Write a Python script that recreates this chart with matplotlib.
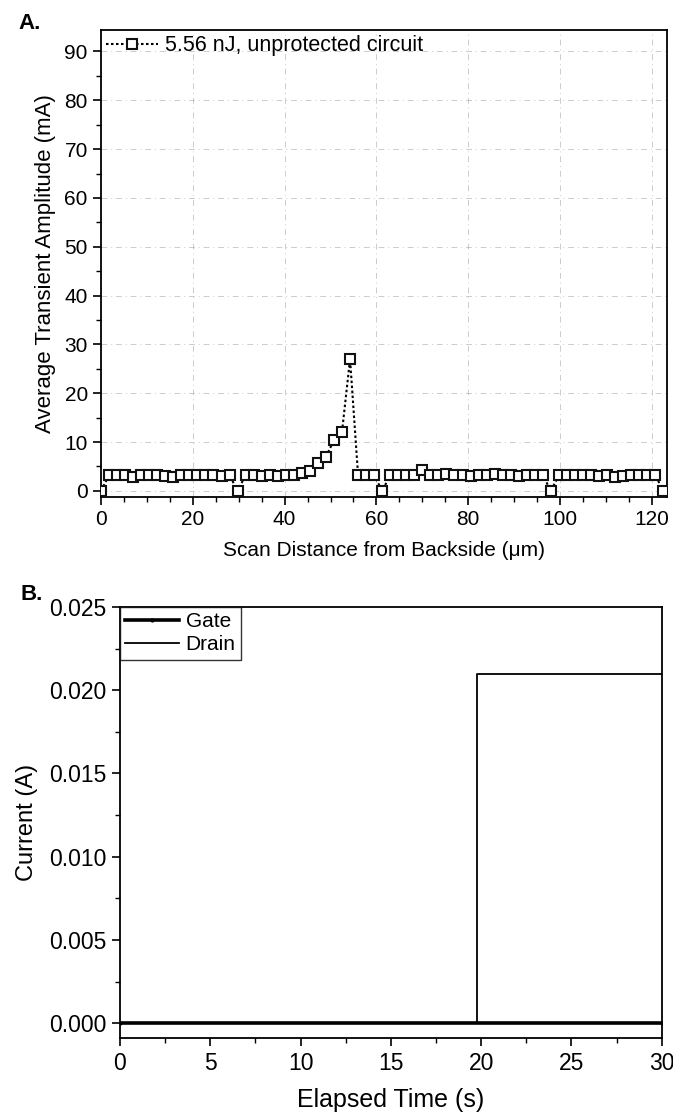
import numpy as np
import matplotlib
matplotlib.use('Agg')
import matplotlib.pyplot as plt
from matplotlib.ticker import MultipleLocator

plt.rcParams['font.family'] = ['Liberation Sans', 'DejaVu Sans']
plt.rcParams['font.size'] = 15

# panel A: scan positions (um) and average transient amplitude (mA)
scan_um = [0.0, 1.75, 3.5, 5.25, 7.0, 8.75, 10.5, 12.25, 14.0, 15.75,
           17.5, 19.25, 21.0, 22.75, 24.5, 26.25, 28.0, 29.75, 31.5, 33.25,
           35.0, 36.75, 38.5, 40.25, 42.0, 43.75, 45.5, 47.25, 49.0, 50.75,
           52.5, 54.25, 56.0, 57.75, 59.5, 61.25, 63.0, 64.75, 66.5, 68.25,
           70.0, 71.75, 73.5, 75.25, 77.0, 78.75, 80.5, 82.25, 84.0, 85.75,
           87.5, 89.25, 91.0, 92.75, 94.5, 96.25, 98.0, 99.75, 101.5, 103.25,
           105.0, 106.75, 108.5, 110.25, 112.0, 113.75, 115.5, 117.25, 119.0, 120.75,
           122.5]
amp_ma = [0,
          3.2, 3.3, 3.2, 2.9, 3.2, 3.3, 3.2, 3.1, 2.9, 3.2, 3.2, 3.3, 3.2, 3.2, 3.1, 3.2,
          0,
          3.2, 3.2, 3.1, 3.2, 3.1, 3.2, 3.2, 3.7, 4.1, 5.8, 7.0, 10.4, 12.1, 27.0, 3.2, 3.2, 3.2,
          0,
          3.2, 3.2, 3.2, 3.2, 4.2, 3.2, 3.2, 3.5, 3.2, 3.2, 3.1, 3.2, 3.3, 3.5, 3.2, 3.2, 3.1, 3.2, 3.2, 3.2,
          0,
          3.2, 3.2, 3.3, 3.2, 3.2, 3.1, 3.2, 2.9, 3.1, 3.2, 3.2, 3.2, 3.2,
          0]
label_a = '5.56 nJ, unprotected circuit'

# panel B: current vs elapsed time
gate_t = [0, 30]
gate_i = [0.0, 0.0]
drain_t = [0, 19.75, 19.75, 30]
drain_i = [0.0, 0.0, 0.021, 0.021]

fig = plt.figure(figsize=(6.73, 11.19), dpi=100)

# ---- A ----
ax1 = fig.add_axes([0.1501, 0.5561, 0.841, 0.4171])
ax1.plot(scan_um, amp_ma, ls=(0, (1.2, 1.2)), lw=1.5, color='black',
         marker='s', ms=7, mfc='white', mec='#111111', mew=1.5, label=label_a, zorder=3)
ax1.set_xlim(0, 123.3)
ax1.set_ylim(-1.2, 94.4)
ax1.xaxis.set_major_locator(MultipleLocator(20))
ax1.xaxis.set_minor_locator(MultipleLocator(5))
ax1.yaxis.set_major_locator(MultipleLocator(10))
ax1.yaxis.set_minor_locator(MultipleLocator(5))
ax1.tick_params(which='major', direction='out', length=6, width=1.2, labelsize=15)
ax1.tick_params(which='minor', direction='out', length=3.5, width=1.0)
ax1.grid(True, which='major', color='#aaaaaa', ls=(0, (6, 4, 1, 4)), lw=0.7, alpha=0.6)
for s in ax1.spines.values():
    s.set_linewidth(1.3)
ax1.set_xlabel('Scan Distance from Backside (\u03bcm)', fontsize=15, labelpad=9)
ax1.set_ylabel('Average Transient Amplitude (mA)', fontsize=16, labelpad=6)
ax1.legend(loc='upper left', frameon=False, fontsize=15.5, handlelength=2.4,
           handletextpad=0.3, borderaxespad=0.1, borderpad=0.15)

# ---- B ----
ax2 = fig.add_axes([0.1783, 0.0721, 0.805, 0.3855])
ax2.plot(gate_t, gate_i, color='black', lw=2.6, marker='.', ms=4, label='Gate')
ax2.plot(drain_t, drain_i, color='black', lw=1.3, label='Drain')
ax2.set_xlim(0, 30)
ax2.set_ylim(-0.0009, 0.025)
ax2.xaxis.set_major_locator(MultipleLocator(5))
ax2.xaxis.set_minor_locator(MultipleLocator(2.5))
ax2.yaxis.set_major_locator(MultipleLocator(0.005))
ax2.yaxis.set_minor_locator(MultipleLocator(0.0025))
ax2.yaxis.set_major_formatter(plt.FormatStrFormatter('%.3f'))
ax2.tick_params(which='major', direction='out', length=6, width=1.2, labelsize=16.5)
ax2.tick_params(which='minor', direction='out', length=3.5, width=1.0)
for s in ax2.spines.values():
    s.set_linewidth(1.3)
ax2.set_xlabel('Elapsed Time (s)', fontsize=18, labelpad=10)
ax2.set_ylabel('Current (A)', fontsize=17, labelpad=8)
leg = ax2.legend(loc='upper left', frameon=True, fancybox=False, fontsize=15,
                 handlelength=2.6, handletextpad=0.3, borderaxespad=0.0,
                 borderpad=0.25, labelspacing=0.2, numpoints=1, markerscale=1.0)
leg.get_frame().set_edgecolor('black')
leg.get_frame().set_linewidth(1.0)

fig.text(0.028, 0.988, 'A.', fontsize=16, fontweight='bold', va='top')
fig.text(0.03, 0.478, 'B.', fontsize=16, fontweight='bold', va='top')

fig.savefig('out.png', dpi=100)
